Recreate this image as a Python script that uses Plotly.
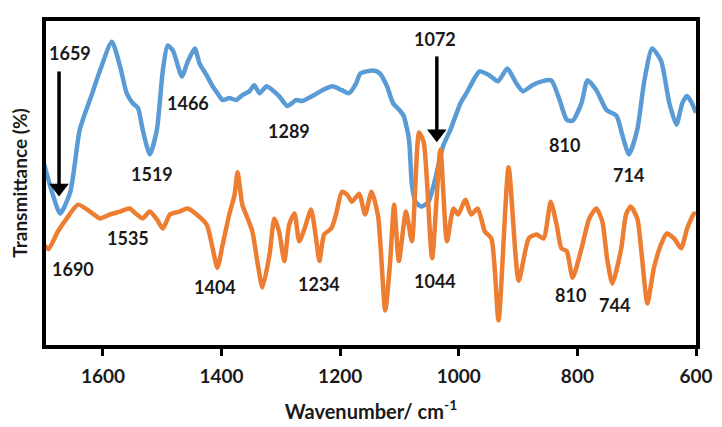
import plotly.graph_objects as go

# Blue spectrum (upper)
blue_wn = [1700, 1686, 1672, 1655, 1639, 1618, 1605, 1585, 1571, 1560, 1550, 1541, 1533, 1521,
           1509, 1499, 1491, 1482, 1467, 1457, 1445, 1437, 1425, 1415, 1407, 1398, 1387, 1375,
           1365, 1353, 1345, 1336, 1324, 1314, 1303, 1289, 1274, 1264, 1247, 1230, 1213, 1197,
           1185, 1173, 1166, 1144, 1133, 1121, 1111, 1099, 1093, 1084, 1079, 1073, 1063, 1051,
           1026, 1014, 997, 987, 965, 948, 934, 918, 903, 892, 876, 860, 844, 830, 818, 808,
           793, 783, 768, 751, 734, 724, 713, 699, 687, 674, 659, 645, 633, 623, 615, 607, 600]
blue_t = [56.3, 47.3, 40.7, 47.3, 66.3, 77.4, 84.3, 93.1, 85.5, 77.4, 74.4, 72.9, 66.3, 58.7,
          66.3, 84.3, 91.9, 90.4, 82.5, 87.0, 91.0, 86.4, 82.8, 79.5, 77.4, 75.3, 75.9, 75.3,
          76.8, 78.0, 79.8, 77.4, 79.5, 78.3, 76.5, 73.5, 75.3, 75.0, 76.5, 78.3, 79.5, 78.3,
          77.4, 80.4, 83.4, 84.3, 83.4, 79.5, 74.4, 72.0, 70.5, 63.3, 49.4, 44.3, 42.8, 44.3,
          61.4, 66.3, 74.4, 77.4, 84.0, 82.8, 81.0, 84.9, 80.4, 78.0, 79.8, 81.0, 81.3, 75.3, 69.3, 69.0,
          74.4, 81.3, 78.3, 72.3, 70.5, 64.5, 58.7, 66.3, 81.3, 91.0, 87.3, 74.4, 67.8, 74.4, 76.5, 74.4, 71.4]

# Orange spectrum (lower)
orange_wn = [1700, 1692, 1676, 1661, 1642, 1622, 1605, 1588, 1571, 1555, 1543, 1533, 1521, 1509,
             1499, 1487, 1471, 1457, 1442, 1425, 1415, 1407, 1398, 1387, 1378, 1373, 1365, 1356,
             1348, 1339, 1331, 1319, 1311, 1303, 1294, 1286, 1277, 1269, 1260, 1249, 1240, 1235,
             1227, 1215, 1207, 1197, 1188, 1180, 1168, 1158, 1147, 1136, 1124, 1116, 1109, 1101,
             1089, 1079, 1067, 1059, 1045, 1031, 1020, 1009, 1001, 989, 979, 968, 956, 945, 933,
             916, 899, 882, 869, 857, 845, 835, 827, 818, 808, 793, 780, 768, 758, 750, 741, 726,
             718, 710, 699, 691, 682, 671, 659, 649, 637, 625, 615, 603, 600]
orange_t = [31.3, 29.8, 35.2, 39.2, 43.4, 41.3, 39.2, 40.4, 41.3, 42.2, 40.4, 39.2, 41.3, 38.9,
            36.1, 40.4, 41.3, 42.2, 40.4, 37.3, 30.1, 24.1, 31.3, 40.4, 46.4, 53.3, 43.4, 39.2,
            35.2, 25.3, 18.1, 28.3, 39.2, 35.2, 26.2, 37.3, 40.7, 32.2, 36.1, 41.9, 32.2, 26.2,
            34.3, 36.1, 40.4, 47.3, 46.4, 44.3, 46.7, 40.4, 47.3, 39.8, 11.1, 25.3, 43.4, 26.2,
            41.3, 32.2, 65.4, 62.3, 27.1, 60.2, 32.2, 42.2, 40.4, 44.9, 40.4, 42.2, 35.2, 33.1, 8.1,
            54.8, 20.2, 33.1, 34.3, 33.1, 44.3, 37.3, 30.1, 29.2, 21.1, 30.1, 39.2, 42.2, 38.3, 27.1, 19.3, 30.1,
            40.4, 42.8, 39.2, 27.1, 13.3, 24.1, 31.3, 34.6, 33.1, 30.1, 36.1, 40.7, 40.4]

# Peak labels
label_text = ["1659", "1519", "1466", "1289", "1072", "810", "714",
              "1690", "1535", "1404", "1234", "1044", "810", "744"]
label_wn = [1655, 1518, 1457, 1286, 1040, 822, 713,
            1650, 1558, 1411, 1235, 1040, 811, 738]
label_t = [89.5, 52.7, 74.4, 66.0, 94.0, 61.7, 52.4,
           23.8, 33.1, 18.4, 19.3, 20.2, 15.7, 12.7]

# Arrows: (wavenumber, tail, head)
arrow_wn = [1674, 1037]
arrow_tail = [84.0, 88.6]
arrow_head = [48.5, 65.0]

xticks = [1600, 1400, 1200, 1000, 800, 600]

FONT = "Lato"

fig = go.Figure()
fig.add_trace(go.Scatter(x=blue_wn, y=blue_t, mode="lines",
                         line=dict(color="#5B9BD5", width=4.5, shape="spline", smoothing=0.6),
                         showlegend=False, hoverinfo="skip"))
fig.add_trace(go.Scatter(x=orange_wn, y=orange_t, mode="lines",
                         line=dict(color="#ED7D31", width=4.5, shape="spline", smoothing=0.6),
                         showlegend=False, hoverinfo="skip"))

for x, t0, t1 in zip(arrow_wn, arrow_tail, arrow_head):
    fig.add_trace(go.Scatter(x=[x, x], y=[t0, t1], mode="lines",
                             line=dict(color="black", width=3.5),
                             showlegend=False, hoverinfo="skip"))
    fig.add_trace(go.Scatter(x=[x], y=[t1], mode="markers",
                             marker=dict(symbol="triangle-down", size=17, color="black",
                                         line=dict(width=0)),
                             showlegend=False, hoverinfo="skip"))

for t, x, y in zip(label_text, label_wn, label_t):
    fig.add_annotation(x=x, y=y, text=t, showarrow=False,
                       font=dict(family=FONT, size=18, color="#1a1a1a", weight="bold"))

fig.update_layout(
    width=722, height=427,
    margin=dict(l=38, r=34, t=9, b=90),
    paper_bgcolor="white", plot_bgcolor="white",
    font=dict(family=FONT, color="#1a1a1a", weight="bold"),
)
fig.update_xaxes(range=[1696, 600], tickvals=xticks, ticks="outside", ticklen=7, tickwidth=3,
                 tickcolor="black", showline=True, linewidth=4, linecolor="black", mirror=True,
                 showgrid=False, zeroline=False, ticklabelstandoff=4,
                 tickfont=dict(family=FONT, size=19, color="#1a1a1a", weight="bold"),
                 title=dict(text="Wavenumber/ cm<sup>-1</sup>", standoff=20,
                            font=dict(family=FONT, size=20, color="#1a1a1a", weight="bold")))
fig.update_yaxes(range=[0.6, 99.4], showticklabels=False, ticks="", showline=True, linewidth=4,
                 linecolor="black", mirror=True, showgrid=False, zeroline=False,
                 title=dict(text="Transmittance (%)", standoff=12,
                            font=dict(family=FONT, size=19, color="#1a1a1a", weight="bold")))

fig.write_html("out.html")
